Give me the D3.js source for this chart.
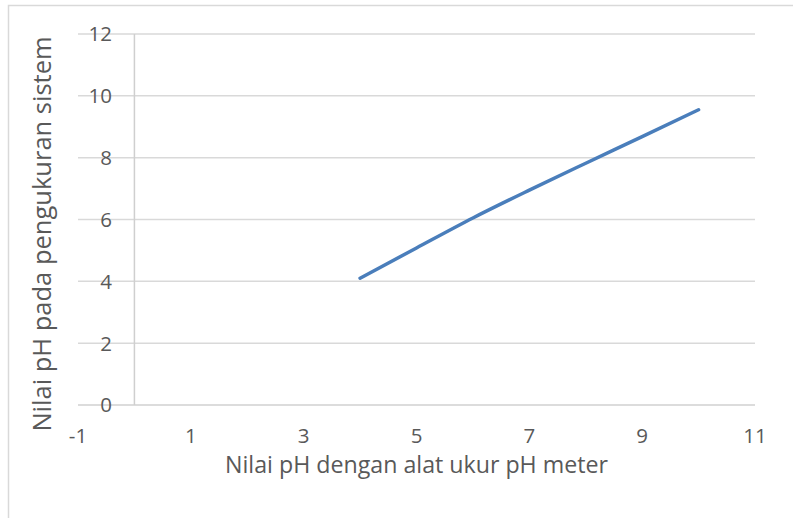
<!DOCTYPE html>
<html><head><meta charset="utf-8">
<script src="https://cdn.jsdelivr.net/npm/d3@7"></script>
<style>
html,body{margin:0;padding:0;background:#fff;}
svg{display:block;font-family:"Open Sans",sans-serif;}
</style></head>
<body>
<svg id="chart" width="793" height="518"></svg>
<script>
const xValues = [4, 5, 6, 7, 8, 9, 10];
const yValues = [4.1, 5.08, 6.05, 6.95, 7.82, 8.68, 9.55];
const xTicks = [-1, 1, 3, 5, 7, 9, 11];
const yTicks = [0, 2, 4, 6, 8, 10, 12];
const xTitle = "Nilai pH dengan alat ukur pH meter";
const yTitle = "Nilai pH pada pengukuran sistem";

const svg = d3.select("#chart");
const W = 793, H = 518;
const plot = {left: 78, right: 755, top: 34, bottom: 405};

// chart frame
svg.append("rect").attr("x", 8.5).attr("y", 5.5).attr("width", W + 20).attr("height", H + 20)
  .attr("fill", "#fff").attr("stroke", "#d9d9d9").attr("stroke-width", 1.5);

const x = d3.scaleLinear().domain([-1, 11]).range([plot.left, plot.right]);
const y = d3.scaleLinear().domain([0, 12]).range([plot.bottom, plot.top]);

// horizontal gridlines
svg.append("g").selectAll("line").data(yTicks).join("line")
  .attr("x1", x(-1)).attr("x2", x(11))
  .attr("y1", d => y(d)).attr("y2", d => y(d))
  .attr("stroke", d => d === 0 ? "#d0d0d0" : "#d9d9d9").attr("stroke-width", 1.5);

// vertical axis line at x = 0
svg.append("line").attr("x1", x(0)).attr("x2", x(0)).attr("y1", y(12)).attr("y2", y(0))
  .attr("stroke", "#cfcfcf").attr("stroke-width", 1.5);

// y tick labels
svg.append("g").selectAll("text").data(yTicks).join("text")
  .attr("x", 112).attr("y", d => y(d)).attr("dy", "0.36em")
  .attr("text-anchor", "end").attr("fill", "#595959").attr("font-size", 20.5)
  .text(d => d);

// x tick labels
svg.append("g").selectAll("text").data(xTicks).join("text")
  .attr("x", d => x(d)).attr("y", 443)
  .attr("text-anchor", "middle").attr("fill", "#595959").attr("font-size", 20.5)
  .text(d => d);

// axis titles
svg.append("text").attr("x", (plot.left + plot.right) / 2).attr("y", 473)
  .attr("text-anchor", "middle").attr("fill", "#595959").attr("font-size", 23.2)
  .text(xTitle);
svg.append("text").attr("transform", `translate(51,234) rotate(-90)`)
  .attr("text-anchor", "middle").attr("fill", "#595959").attr("font-size", 25.5)
  .text(yTitle);

// series line
const pts = xValues.map((v, i) => [v, yValues[i]]);
svg.append("path").datum(pts)
  .attr("fill", "none").attr("stroke", "#4a7ebb").attr("stroke-width", 3.5)
  .attr("stroke-linecap", "round").attr("stroke-linejoin", "round")
  .attr("d", d3.line().curve(d3.curveMonotoneX).x(d => x(d[0])).y(d => y(d[1])));
</script>
</body></html>
